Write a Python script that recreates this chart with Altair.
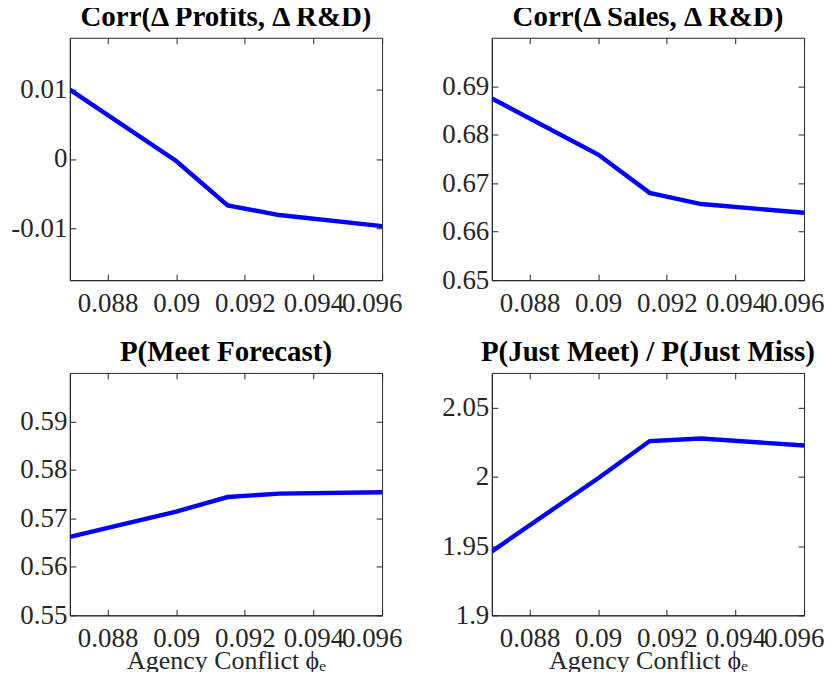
import altair as alt
import pandas as pd

# Data
phi_e = [0.0869, 0.0900, 0.0915, 0.0930, 0.0960]
corr_profits_rd = [0.0100, -0.0003, -0.0067, -0.0081, -0.0097]
corr_sales_rd = [0.6875, 0.6759, 0.6680, 0.6657, 0.6639]
p_meet_forecast = [0.5662, 0.5714, 0.5744, 0.5751, 0.5754]
p_just_meet_miss = [1.9462, 1.9990, 2.0258, 2.0277, 2.0226]

x_ticks = [0.088, 0.090, 0.092, 0.094, 0.096]
x_domain = [0.0869, 0.0960]

df = pd.DataFrame({
    "phi": phi_e,
    "profits": corr_profits_rd,
    "sales": corr_sales_rd,
    "meet": p_meet_forecast,
    "ratio": p_just_meet_miss,
})

FONT = "Liberation Serif"
AX = "#262626"
W, H = 313, 243


def panel(col, title, ydomain, yticks, yfmt, xtitle):
    xs = alt.Scale(domain=x_domain, nice=False, zero=False)
    ys = alt.Scale(domain=ydomain, nice=False, zero=False)
    main = alt.Chart(df).mark_line(color="#0000ff", strokeWidth=4.4, clip=True).encode(
        x=alt.X("phi:Q", scale=xs,
                axis=alt.Axis(values=x_ticks, labelExpr="format(datum.value, '.3~f')",
                              title=xtitle if xtitle else None, titlePadding=-4,
                              tickSize={"expr": "-6"}, labelPadding=16,
                              labelFlush=1, labelFlushOffset=20,
                              orient="bottom")),
        y=alt.Y(col + ":Q", scale=ys,
                axis=alt.Axis(values=yticks, labelExpr=yfmt, title=None,
                              tickSize={"expr": "-6"}, labelPadding=9,
                              orient="left")),
    )
    extra = alt.Chart(df).mark_line(opacity=0).encode(
        x=alt.X("phi:Q", scale=xs,
                axis=alt.Axis(values=x_ticks, labels=False, domain=False, title=None,
                              tickSize={"expr": "-6"}, orient="top", minExtent=0)),
        y=alt.Y(col + ":Q", scale=ys,
                axis=alt.Axis(values=yticks, labels=False, domain=False, title=None,
                              tickSize={"expr": "-6"}, orient="right", minExtent=0)),
    )
    return alt.layer(main, extra).resolve_axis(x="independent", y="independent").properties(
        width=W, height=H,
        title=alt.TitleParams(title, font=FONT, fontSize=29, fontWeight="bold",
                              color="#000000", offset=5),
    )


p1 = panel("profits", "Corr(Δ Profits, Δ R&D)", [-0.0175, 0.0175], [-0.01, 0, 0.01],
           "datum.value == 0 ? '0' : replace(format(datum.value, '.2~f'), '\u2212', '-')", None)
p2 = panel("sales", "Corr(Δ Sales, Δ R&D)", [0.65, 0.70], [0.65, 0.66, 0.67, 0.68, 0.69],
           "format(datum.value, '.2f')", None)
p3 = panel("meet", "P(Meet Forecast)", [0.55, 0.60], [0.55, 0.56, 0.57, 0.58, 0.59],
           "format(datum.value, '.2f')", "Agency Conflict ϕₑ")
p4 = panel("ratio", "P(Just Meet) / P(Just Miss)", [1.9, 2.075], [1.9, 1.95, 2.0, 2.05],
           "format(datum.value, '.3~f')", "Agency Conflict ϕₑ")

chart = alt.vconcat(
    alt.hconcat(p1, p2, spacing=38),
    alt.hconcat(p3, p4, spacing=38),
    spacing=21,
).properties(
    padding={"left": 2, "top": -6, "right": 0, "bottom": -3},
).configure_view(
    stroke=AX, strokeWidth=1,
).configure_axis(
    grid=False, domainColor=AX, domainWidth=1, tickColor=AX, tickWidth=1,
    labelFont=FONT, labelFontSize=27, labelColor=AX,
    titleFont=FONT, titleFontSize=26, titleColor=AX, titleFontWeight="normal",
    labelOverlap=False,
)

chart.save("out.html", embed_options={"renderer": "svg", "actions": False})
